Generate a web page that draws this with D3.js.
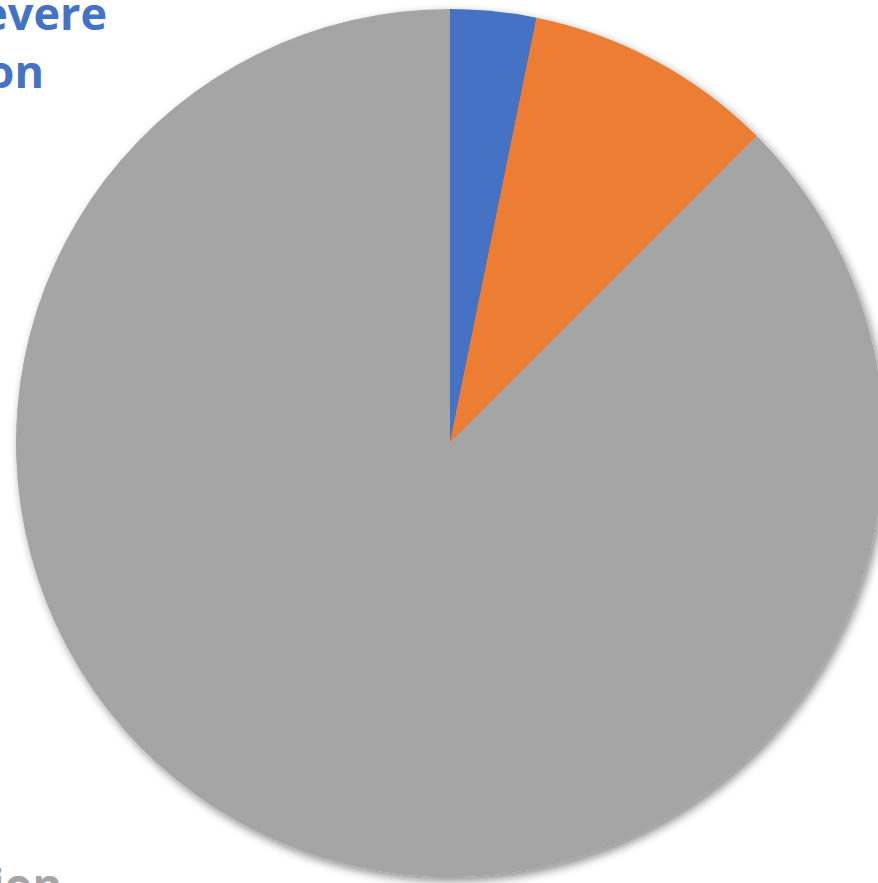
<!DOCTYPE html>
<html>
<head>
<meta charset="utf-8">
<script src="https://cdn.jsdelivr.net/npm/d3@7/dist/d3.min.js"></script>
<style>
  html, body { margin: 0; padding: 0; background: #ffffff; overflow: hidden; }
  svg { display: block; }
</style>
</head>
<body>
<svg id="chart" width="878" height="883"></svg>
<script>
// Data
const categories = ["Severe complication", "Mild complication", "No complication"];
const values = [3.2, 9.3, 87.5];
const colors = ["#4472C4", "#ED7D31", "#A5A5A5"];
// Visible data labels (partially cut off by the canvas edge)
const labelLines = [["Severe", "complication"], [], ["No complication"]];

const W = 878, H = 883;
const cx = 450, cy = 443, R = 434;

const svg = d3.select("#chart");
const defs = svg.append("defs");
const f = defs.append("filter").attr("id", "shadow")
  .attr("x", "-10%").attr("y", "-10%").attr("width", "120%").attr("height", "120%");
f.append("feGaussianBlur").attr("in", "SourceAlpha").attr("stdDeviation", 5).attr("result", "b");
f.append("feOffset").attr("in", "b").attr("dx", 3).attr("dy", 4).attr("result", "o");
f.append("feComponentTransfer").attr("in", "o").attr("result", "s")
  .append("feFuncA").attr("type", "linear").attr("slope", 0.45);
const m = f.append("feMerge");
m.append("feMergeNode").attr("in", "s");
m.append("feMergeNode").attr("in", "SourceGraphic");

const pie = d3.pie().sort(null).value(d => d)(values);
const arc = d3.arc().innerRadius(0).outerRadius(R);

const g = svg.append("g").attr("transform", `translate(${cx},${cy})`).attr("filter", "url(#shadow)");
g.selectAll("path").data(pie).join("path")
  .attr("d", arc)
  .attr("fill", (d, i) => colors[i]);

// Labels
const font = "'Open Sans', 'Noto Sans', sans-serif";
// Blue label (top-left, right-aligned, cut off)
const t0 = svg.append("text")
  .attr("text-anchor", "end")
  .attr("font-family", font).attr("font-weight", 700).attr("font-size", 45)
  .attr("fill", colors[0]);
t0.append("tspan").attr("x", 107).attr("y", 30).text("Severe");
t0.append("tspan").attr("x", 44).attr("y", 88).text("complicati" + "on");

// Gray label (bottom-left, cut off)
svg.append("text")
  .attr("text-anchor", "end")
  .attr("x", 62).attr("y", 901)
  .attr("font-family", font).attr("font-weight", 700).attr("font-size", 45)
  .attr("fill", colors[2])
  .text(labelLines[2][0].replace("complication", "complication"));
</script>
</body>
</html>
